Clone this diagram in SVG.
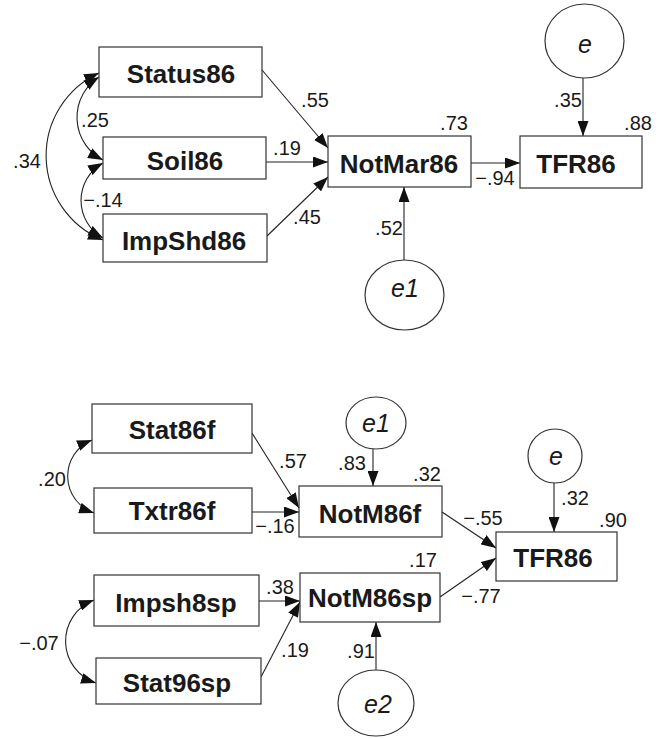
<svg xmlns="http://www.w3.org/2000/svg" width="663" height="739" viewBox="0 0 663 739">
<style>
.box{fill:#fff;stroke:#333;stroke-width:1.2}
.ell{fill:#fff;stroke:#333;stroke-width:1.2}
.lbl{font-family:"Liberation Sans",Arial,sans-serif;font-weight:bold;font-size:26px;fill:#1a1a1a;text-anchor:middle}
.err{font-family:"Liberation Sans",Arial,sans-serif;font-style:italic;font-size:25px;fill:#1a1a1a;text-anchor:middle}
.num{font-family:"Liberation Sans",Arial,sans-serif;font-size:20px;fill:#1a1a1a;text-anchor:middle}
.c{fill:none;stroke:#222;stroke-width:1.1;marker-end:url(#ah)}
.d{fill:none;stroke:#222;stroke-width:1.1;marker-start:url(#ah);marker-end:url(#ah)}
</style>
<defs>
<marker id="ah" markerUnits="userSpaceOnUse" markerWidth="15" markerHeight="11" refX="15" refY="5.5" orient="auto-start-reverse">
<path d="M0,0 L15,5.5 L0,11 z" fill="#111"/>
</marker>
</defs>
<rect width="663" height="739" fill="#fff"/>
<g id="connectors">
<path class="d" d="M99 73 A91 91 0 0 0 103 240"/>
<path class="d" d="M99 77 A48 48 0 0 0 103 160"/>
<path class="d" d="M103 163 A43 43 0 0 0 103 238"/>
<path class="c" d="M262 70 L328 148"/>
<path class="c" d="M266 162 L328 162"/>
<path class="c" d="M267 236 L328 177"/>
<path class="c" d="M471 163 L520 163"/>
<path class="c" d="M583 78 L583 136"/>
<path class="c" d="M404 260 L404 187"/>
<path class="d" d="M92 440 A39 39 0 0 0 94 513"/>
<path class="d" d="M94 600 A44 44 0 0 0 96 683"/>
<path class="c" d="M252 433 L299 508"/>
<path class="c" d="M252 512 L299 512"/>
<path class="c" d="M373 449 L373 486"/>
<path class="c" d="M442 512 L496 548"/>
<path class="c" d="M554 483 L554 532"/>
<path class="c" d="M440 597 L496 558"/>
<path class="c" d="M259 601 L300 601"/>
<path class="c" d="M261 677 L300 602"/>
<path class="c" d="M376 670 L376 622"/>
</g>
<g id="labels">
<text class="num" x="315" y="107">.55</text>
<text class="num" x="287" y="155">.19</text>
<text class="num" x="307" y="224">.45</text>
<text class="num" x="95" y="127">.25</text>
<text class="num" x="27" y="168">.34</text>
<text class="num" x="103" y="207">−.14</text>
<text class="num" x="454" y="130">.73</text>
<text class="num" x="638" y="130">.88</text>
<text class="num" x="495" y="185">−.94</text>
<text class="num" x="568" y="107">.35</text>
<text class="num" x="389" y="235">.52</text>
<text class="num" x="52" y="486">.20</text>
<text class="num" x="293" y="468">.57</text>
<text class="num" x="275" y="533">−.16</text>
<text class="num" x="352" y="470">.83</text>
<text class="num" x="427" y="481">.32</text>
<text class="num" x="483" y="525">−.55</text>
<text class="num" x="575" y="505">.32</text>
<text class="num" x="613" y="527">.90</text>
<text class="num" x="423" y="567">.17</text>
<text class="num" x="280" y="594">.38</text>
<text class="num" x="481" y="603">−.77</text>
<text class="num" x="295" y="657">.19</text>
<text class="num" x="361" y="658">.91</text>
<text class="num" x="39" y="650">−.07</text>
</g>
<g id="Status86"><rect class="box" x="99" y="47" width="163" height="50"/><text class="lbl" x="181" y="83">Status86</text></g>
<g id="Soil86"><rect class="box" x="103" y="137" width="163" height="42"/><text class="lbl" x="185" y="170">Soil86</text></g>
<g id="ImpShd86"><rect class="box" x="103" y="214" width="164" height="48"/><text class="lbl" x="184" y="250">ImpShd86</text></g>
<g id="NotMar86"><rect class="box" x="328" y="136" width="143" height="51"/><text class="lbl" x="399" y="173">NotMar86</text></g>
<g id="TFR86_top"><rect class="box" x="520" y="136" width="122" height="52"/><text class="lbl" x="576" y="173">TFR86</text></g>
<g id="e_top"><ellipse class="ell" cx="584.5" cy="41" rx="39.5" ry="37"/><text class="err" x="585" y="53">e</text></g>
<g id="e1_top"><ellipse class="ell" cx="404.5" cy="295" rx="39.5" ry="35"/><text class="err" x="405" y="297">e1</text></g>
<g id="Stat86f"><rect class="box" x="92" y="404" width="160" height="49"/><text class="lbl" x="172" y="439">Stat86f</text></g>
<g id="Txtr86f"><rect class="box" x="94" y="488" width="158" height="45"/><text class="lbl" x="172" y="520">Txtr86f</text></g>
<g id="NotM86f"><rect class="box" x="299" y="486" width="143" height="51"/><text class="lbl" x="370" y="523">NotM86f</text></g>
<g id="TFR86_bottom"><rect class="box" x="496" y="532" width="121" height="49"/><text class="lbl" x="553" y="567">TFR86</text></g>
<g id="e1_bottom"><ellipse class="ell" cx="376" cy="423" rx="30" ry="26"/><text class="err" x="376" y="432">e1</text></g>
<g id="e_bottom"><ellipse class="ell" cx="555" cy="456" rx="27" ry="27"/><text class="err" x="556" y="465">e</text></g>
<g id="NotM86sp"><rect class="box" x="300" y="573" width="140" height="49"/><text class="lbl" x="370" y="607">NotM86sp</text></g>
<g id="Impsh8sp"><rect class="box" x="94" y="575" width="165" height="51"/><text class="lbl" x="176" y="612">Impsh8sp</text></g>
<g id="Stat96sp"><rect class="box" x="96" y="658" width="165" height="46"/><text class="lbl" x="177" y="692">Stat96sp</text></g>
<g id="e2"><ellipse class="ell" cx="376" cy="703" rx="38" ry="33"/><text class="err" x="378" y="713">e2</text></g>
</svg>
